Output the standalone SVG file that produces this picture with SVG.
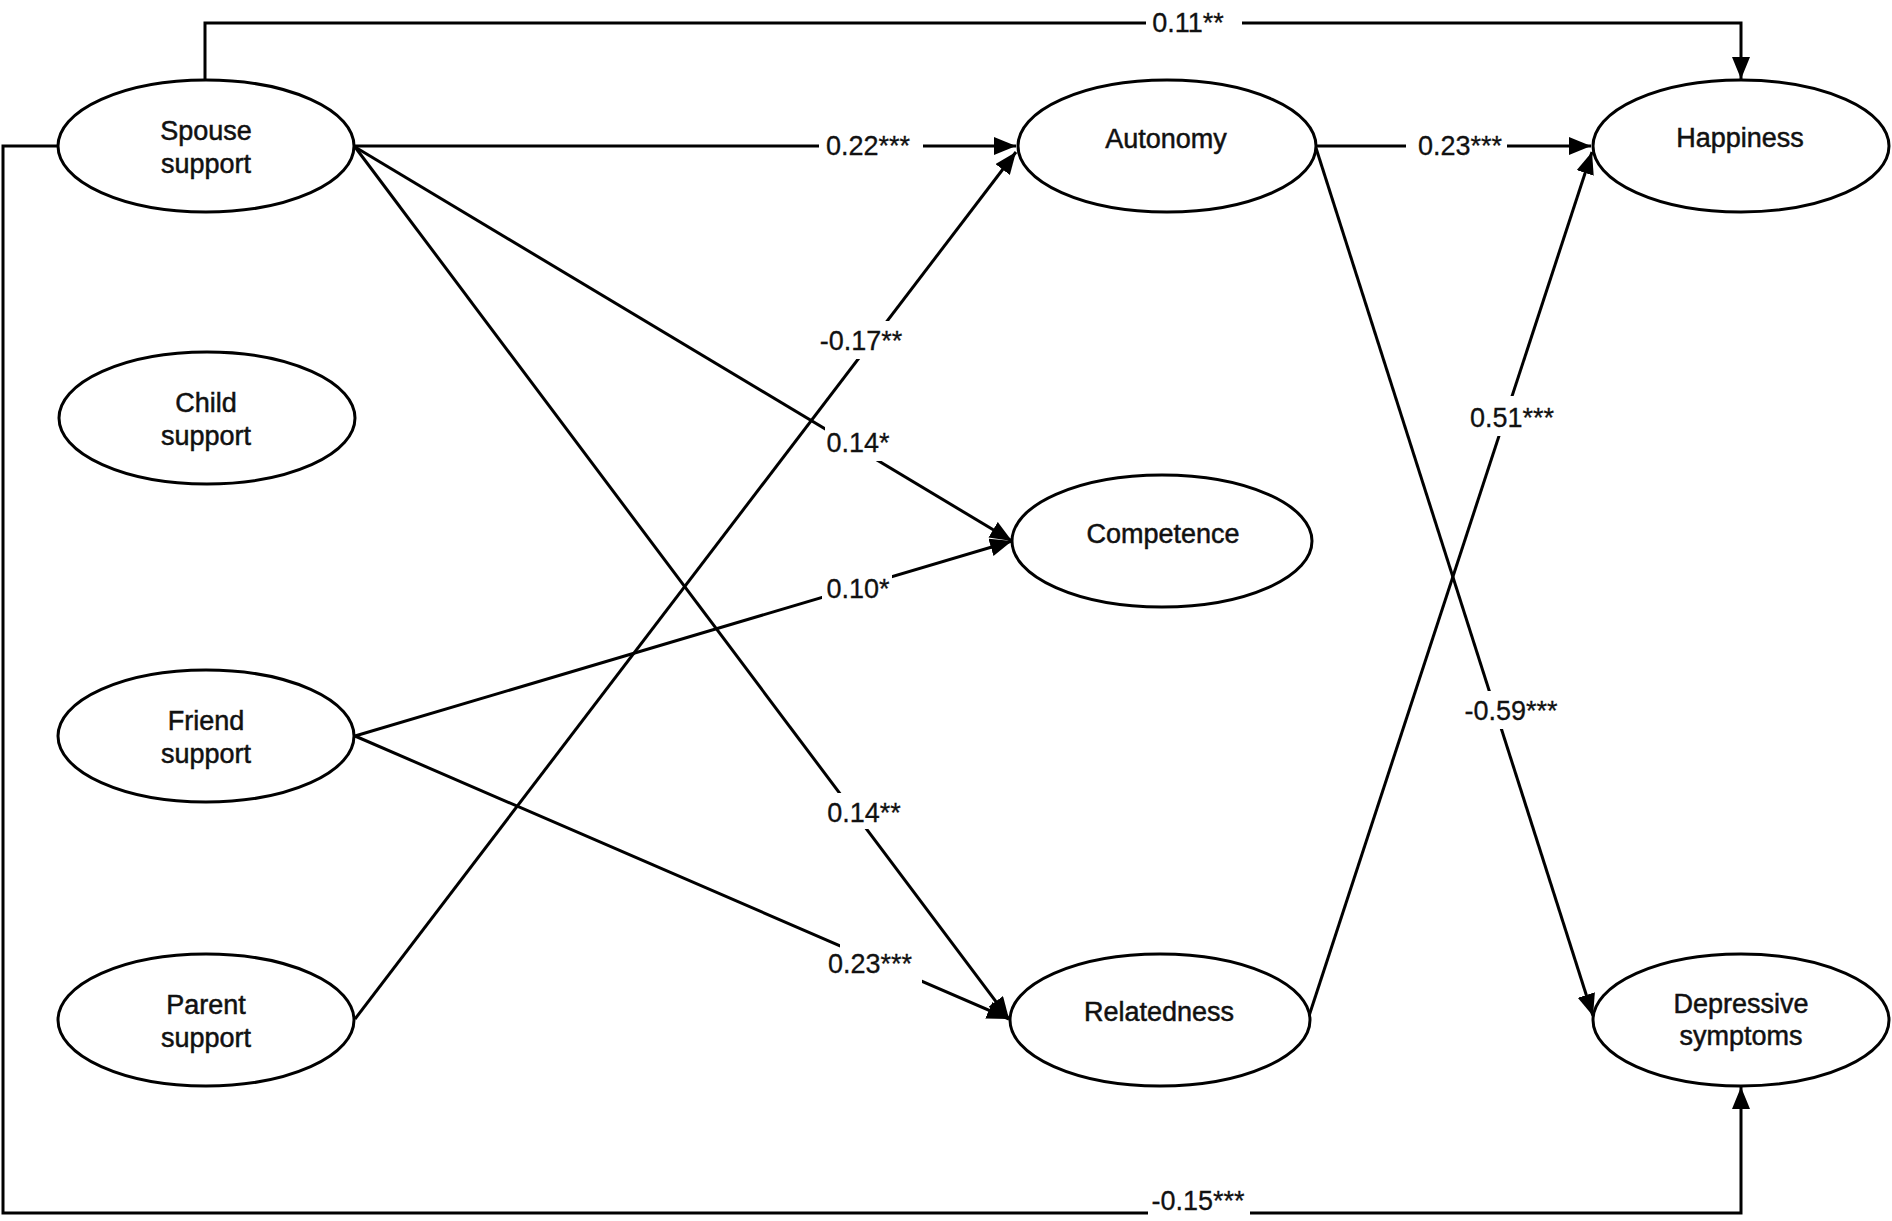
<svg xmlns="http://www.w3.org/2000/svg" width="1892" height="1221" viewBox="0 0 1892 1221">
<style>
  .node ellipse { fill: #fff; stroke: #000; stroke-width: 3; }
  .node text { font-family: "Liberation Sans", Arial, sans-serif; font-size: 27px; fill: #111; stroke: #111; stroke-width: 0.5; text-anchor: middle; }
  .conn { fill: none; stroke: #000; stroke-width: 3; }
  .gap { fill: #fff; stroke: none; }
  .lbl { font-family: "Liberation Sans", Arial, sans-serif; font-size: 27px; fill: #111; stroke: #111; stroke-width: 0.3; text-anchor: middle; }
</style>
<defs>
  <marker id="arr" markerUnits="userSpaceOnUse" markerWidth="24" markerHeight="20" refX="22" refY="9" orient="auto" viewBox="0 0 24 20">
    <path d="M0,0 L22,9 L0,18 z" fill="#000"/>
  </marker>
</defs>
<rect x="0" y="0" width="1892" height="1221" fill="#fff"/>

<g id="connectors">
  <path class="conn" d="M355,146 H1016" marker-end="url(#arr)"/>
  <path class="conn" d="M355,147 L1012,541" marker-end="url(#arr)"/>
  <path class="conn" d="M355,147 L1009,1019" marker-end="url(#arr)"/>
  <path class="conn" d="M355,736 L1012,541" marker-end="url(#arr)"/>
  <path class="conn" d="M355,736 L1009,1019" marker-end="url(#arr)"/>
  <path class="conn" d="M355,1019 L1016,152" marker-end="url(#arr)"/>
  <path class="conn" d="M1316,146 H1591" marker-end="url(#arr)"/>
  <path class="conn" d="M1316,148 L1593,1016" marker-end="url(#arr)"/>
  <path class="conn" d="M1309,1016 L1592,152" marker-end="url(#arr)"/>
  <path class="conn" d="M205,80 V23 H1741 V79" marker-end="url(#arr)"/>
  <path class="conn" d="M57,146 H3 V1213 H1741 V1087" marker-end="url(#arr)"/>

  <g id="labels">
    <rect class="gap" x="1146" y="8" width="96" height="30"/>
    <text class="lbl" x="1188" y="32">0.11**</text>
    <rect class="gap" x="819" y="132" width="104" height="28"/>
    <text class="lbl" x="868" y="155">0.22***</text>
    <rect class="gap" x="1406" y="132" width="101" height="28"/>
    <text class="lbl" x="1460" y="155">0.23***</text>
    <rect class="gap" x="817" y="321" width="89" height="38"/>
    <text class="lbl" x="861" y="350">-0.17**</text>
    <rect class="gap" x="825" y="426" width="67" height="35"/>
    <text class="lbl" x="858" y="452">0.14*</text>
    <rect class="gap" x="822" y="570" width="70" height="35"/>
    <text class="lbl" x="858" y="598">0.10*</text>
    <rect class="gap" x="826" y="793" width="78" height="36"/>
    <text class="lbl" x="864" y="822">0.14**</text>
    <rect class="gap" x="840" y="942" width="82" height="44"/>
    <text class="lbl" x="870" y="973">0.23***</text>
    <rect class="gap" x="1468" y="396" width="89" height="40"/>
    <text class="lbl" x="1512" y="427">0.51***</text>
    <rect class="gap" x="1460" y="691" width="101" height="38"/>
    <text class="lbl" x="1511" y="720">-0.59***</text>
    <rect class="gap" x="1148" y="1192" width="102" height="26"/>
    <text class="lbl" x="1198" y="1210">-0.15***</text>
  </g>
</g>

<g id="spouse" class="node">
  <ellipse cx="206" cy="146" rx="148" ry="66"/>
  <text x="206" y="140">Spouse</text>
  <text x="206" y="173">support</text>
</g>
<g id="child" class="node">
  <ellipse cx="207" cy="418" rx="148" ry="66"/>
  <text x="206" y="412">Child</text>
  <text x="206" y="445">support</text>
</g>
<g id="friend" class="node">
  <ellipse cx="206" cy="736" rx="148" ry="66"/>
  <text x="206" y="730">Friend</text>
  <text x="206" y="763">support</text>
</g>
<g id="parent" class="node">
  <ellipse cx="206" cy="1020" rx="148" ry="66"/>
  <text x="206" y="1014">Parent</text>
  <text x="206" y="1047">support</text>
</g>
<g id="autonomy" class="node">
  <ellipse cx="1167" cy="146" rx="149" ry="66"/>
  <text x="1166" y="148">Autonomy</text>
</g>
<g id="competence" class="node">
  <ellipse cx="1162" cy="541" rx="150" ry="66"/>
  <text x="1163" y="543">Competence</text>
</g>
<g id="relatedness" class="node">
  <ellipse cx="1160" cy="1020" rx="150" ry="66"/>
  <text x="1159" y="1021">Relatedness</text>
</g>
<g id="happiness" class="node">
  <ellipse cx="1741" cy="146" rx="148" ry="66"/>
  <text x="1740" y="147">Happiness</text>
</g>
<g id="depressive" class="node">
  <ellipse cx="1741" cy="1020" rx="148" ry="66"/>
  <text x="1741" y="1013">Depressive</text>
  <text x="1741" y="1045">symptoms</text>
</g>
</svg>
